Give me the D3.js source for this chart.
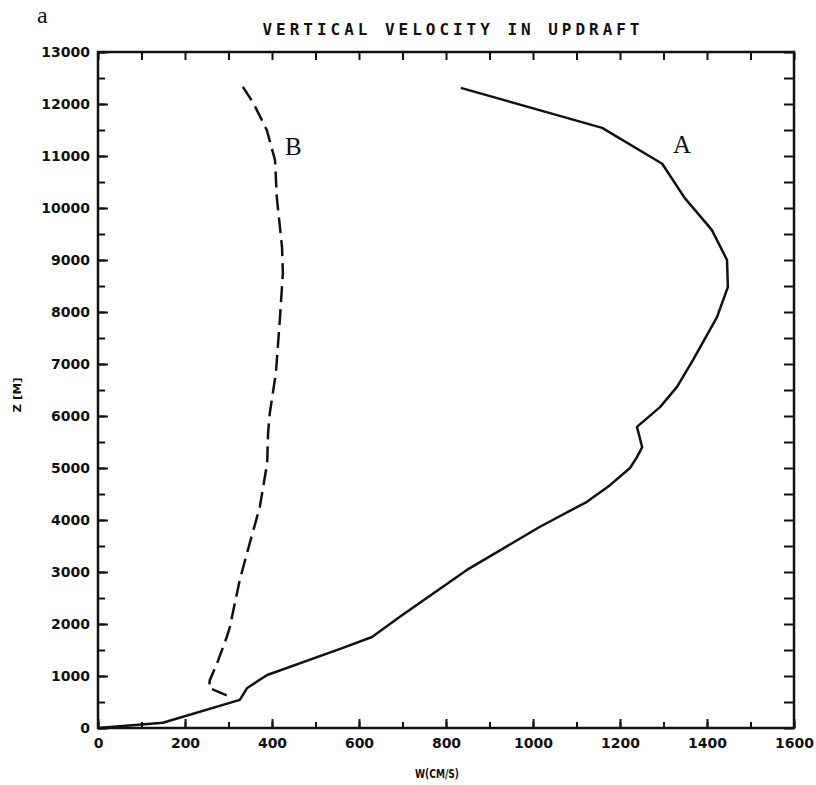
<!DOCTYPE html>
<html>
<head>
<meta charset="utf-8">
<script src="https://cdn.jsdelivr.net/npm/d3@7"></script>
<style>
body { margin: 0; background: #fff; }
</style>
</head>
<body>
<script>
var width = 816, height = 785;

// w (cm/s), z (m)
var seriesA = [[0,0],[149,100],[326,540],[343,770],[389,1020],[563,1540],[630,1750],[694,2140],
  [848,3040],[1016,3870],[1124,4350],[1177,4670],[1223,5000],[1239,5210],[1251,5400],[1239,5790],
  [1292,6170],[1331,6560],[1368,7080],[1423,7900],[1448,8480],[1446,9000],[1411,9580],
  [1349,10190],[1297,10850],[1159,11540],[834,12310]];
var seriesB = [[333,12330],[357,12020],[388,11500],[407,10920],[411,10210],[423,9250],[425,8750],
  [418,7850],[409,6830],[395,6060],[391,5670],[389,5100],[372,4250],[349,3560],[326,2850],
  [303,1940],[296,1750],[274,1250],[257,920],[255,770],[310,580]];
var xMajor = d3.range(0, 1601, 200);
var xMinor = d3.range(0, 1601, 100);
var yMajor = d3.range(0, 13001, 1000);
var yMinor = d3.range(0, 13001, 500);
var xLabels = ["0","200","400","600","800","1000","1200","1400","1600"];

var x = d3.scaleLinear().domain([0,1600]).range([98,794]);
var y = d3.scaleLinear().domain([0,13000]).range([728,52]);

var svg = d3.select("body")
            .append("svg")
            .attr("width", width)
            .attr("height", height)
            .style("font-family", "'DejaVu Sans', sans-serif");

// ticks, all pointing into the frame
function tickAxis(axis, tx, ty) {
  var g = svg.append("g").attr("transform", "translate(" + tx + "," + ty + ")").call(axis);
  g.select(".domain").remove();
  g.attr("font-family", "'DejaVu Sans', sans-serif").attr("font-size", 14);
  g.selectAll("line").attr("stroke", "#111").attr("stroke-width", 2);
  g.selectAll("text").attr("font-weight", "bold").attr("fill", "#111");
  return g;
}

tickAxis(d3.axisBottom(x).tickValues(xMinor).tickSize(-6).tickFormat(""), 0, y(0));
tickAxis(d3.axisBottom(x).tickValues(xMajor).tickSize(-9).tickPadding(10)
  .tickFormat(function(d, i){ return xLabels[i]; }), 0, y(0));
tickAxis(d3.axisTop(x).tickValues(xMinor).tickSize(-8).tickFormat(""), 0, y(13000));
tickAxis(d3.axisLeft(y).tickValues(yMinor).tickSize(-7).tickFormat(""), x(0), 0);
tickAxis(d3.axisLeft(y).tickValues(yMajor).tickSize(-10).tickPadding(8).tickFormat(d3.format("d")), x(0), 0);
tickAxis(d3.axisRight(y).tickValues(yMinor).tickSize(-10).tickFormat(""), x(1600), 0);

svg.append("rect")
   .attr("x", x(0)).attr("y", y(13000))
   .attr("width", x(1600) - x(0)).attr("height", y(0) - y(13000))
   .attr("fill", "none").attr("stroke", "#111").attr("stroke-width", 2.5);

var line = d3.line()
             .x(function(d){ return x(d[0]); })
             .y(function(d){ return y(d[1]); });

svg.append("path").datum(seriesA)
   .attr("d", line)
   .attr("fill", "none").attr("stroke", "#111").attr("stroke-width", 2.5)
   .attr("stroke-linejoin", "round");

svg.append("path").datum(seriesB)
   .attr("d", line)
   .attr("fill", "none").attr("stroke", "#111").attr("stroke-width", 2.5)
   .attr("stroke-dasharray", "16,7");

// texts
svg.append("text").attr("x", 451).attr("y", 35)
   .attr("text-anchor", "middle")
   .attr("font-family", "'DejaVu Sans Mono', monospace").attr("font-weight", "bold")
   .attr("font-size", 16).attr("textLength", 377).attr("lengthAdjust", "spacing")
   .attr("fill", "#111")
   .text("VERTICAL VELOCITY IN UPDRAFT");

svg.append("text").attr("x", 37).attr("y", 23)
   .attr("font-family", "'Liberation Serif', serif").attr("font-size", 24).attr("fill", "#111")
   .text("a");

svg.append("text").attr("x", 285).attr("y", 155)
   .attr("font-family", "'Liberation Serif', serif").attr("font-size", 25).attr("fill", "#111")
   .text("B");

svg.append("text").attr("x", 673).attr("y", 153)
   .attr("font-family", "'Liberation Serif', serif").attr("font-size", 25).attr("fill", "#111")
   .text("A");

svg.append("text").attr("x", 437).attr("y", 778)
   .attr("text-anchor", "middle").attr("font-weight", "bold").attr("font-size", 12)
   .attr("textLength", 44).attr("lengthAdjust", "spacingAndGlyphs").attr("fill", "#111")
   .text("W(CM/S)");

svg.append("text").attr("transform", "translate(21,395) rotate(-90)")
   .attr("text-anchor", "middle").attr("font-weight", "bold").attr("font-size", 11)
   .attr("textLength", 35).attr("lengthAdjust", "spacingAndGlyphs").attr("fill", "#111")
   .text("Z [M]");
</script>
</body>
</html>
